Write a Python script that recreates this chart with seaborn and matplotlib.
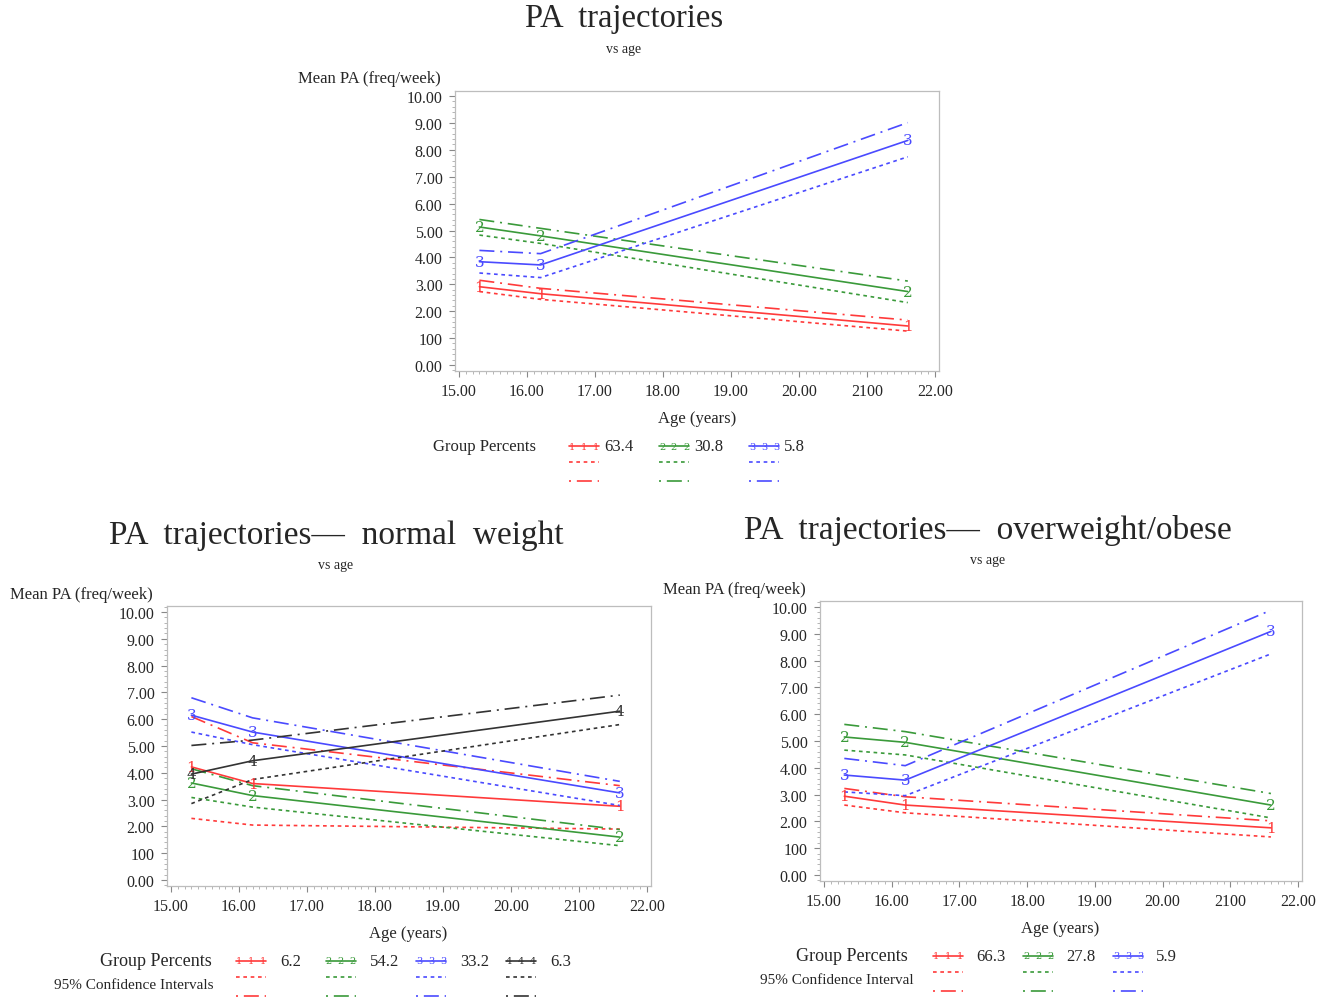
import numpy as np
import pandas as pd
import seaborn as sns
import matplotlib
matplotlib.use("Agg")
import matplotlib.pyplot as plt
from matplotlib.lines import Line2D
from matplotlib.ticker import AutoMinorLocator

W, H = 1333, 1004

# measurement ages (years)
age = [15.3, 16.2, 21.6]

# whole sample: mean, lower 95% CI, upper 95% CI for groups 1-3
all_mean = [[2.91, 2.65, 1.45], [5.13, 4.80, 2.73], [3.84, 3.72, 8.35]]
all_lower = [[2.73, 2.44, 1.26], [4.83, 4.52, 2.32], [3.42, 3.25, 7.74]]
all_upper = [[3.15, 2.85, 1.67], [5.41, 5.08, 3.12], [4.26, 4.14, 9.01]]
all_pct = ["63.4", "30.8", "5.8"]

# normal weight: groups 1-4
nw_mean = [[4.22, 3.60, 2.75], [3.62, 3.15, 1.60], [6.15, 5.52, 3.25], [3.95, 4.45, 6.30]]
nw_lower = [[2.30, 2.05, 1.90], [3.08, 2.72, 1.28], [5.52, 5.05, 2.78], [2.85, 3.75, 5.80]]
nw_upper = [[6.10, 5.12, 3.52], [4.15, 3.52, 1.88], [6.80, 6.05, 3.68], [5.02, 5.22, 6.90]]
nw_pct = ["6.2", "54.2", "33.2", "6.3"]

# overweight/obese: groups 1-3
ow_mean = [[2.94, 2.61, 1.76], [5.15, 4.95, 2.61], [3.73, 3.54, 9.09]]
ow_lower = [[2.61, 2.32, 1.42], [4.66, 4.48, 2.13], [3.10, 2.96, 8.25]]
ow_upper = [[3.23, 2.92, 2.02], [5.62, 5.35, 3.04], [4.35, 4.08, 9.88]]
ow_pct = ["66.3", "27.8", "5.9"]

x_ticks = [15, 16, 17, 18, 19, 20, 21, 22]
x_labels = ["15.00", "16.00", "17.00", "18.00", "19.00", "20.00", "2100", "22.00"]
y_ticks = list(range(11))
y_labels = ["0.00", "100", "2.00", "3.00", "4.00", "5.00", "6.00", "7.00", "8.00", "9.00", "10.00"]

colors = {"1": "#ff3a3a", "2": "#3a9a3a", "3": "#4a4aff", "4": "#333333"}
dash_map = {"mean": "", "lower": (2.2, 2.2), "upper": (9, 3.5, 1.2, 3.5)}
# legend keys: dash-dot starts on the dot so it reads ". -- ."
ls_map = {"mean": "-", "lower": (0, (2.2, 2.2)), "upper": (12.5, (9, 3.5, 1.2, 3.5))}

sns.set_theme(style="white")
plt.rcParams["font.family"] = ["Liberation Serif", "DejaVu Serif"]


def long_table(mean, lower, upper):
    rows = []
    for g, (m, lo, up) in enumerate(zip(mean, lower, upper), start=1):
        for kind, vals in (("mean", m), ("lower", lo), ("upper", up)):
            for a, v in zip(age, vals):
                rows.append((a, v, str(g), kind))
    return pd.DataFrame(rows, columns=["age", "pa", "group", "kind"])


def fx(x):
    return x / W


def fy(y):
    return 1 - y / H


def draw_panel(box, px15, px22, py0, py10, mean, lower, upper):
    left, top, right, bottom = box
    ax = fig.add_axes([fx(left), fy(bottom), (right - left) / W, (bottom - top) / H])
    sx = (px22 - px15) / 7
    sy = (py0 - py10) / 10
    ax.set_xlim(15 - (px15 - left) / sx, 22 + (right - px22) / sx)
    ax.set_ylim(0 - (bottom - py0) / sy, 10 + (py10 - top) / sy)
    df = long_table(mean, lower, upper)
    pal = {g: colors[g] for g in df["group"].unique()}
    sns.lineplot(data=df, x="age", y="pa", hue="group", style="kind",
                 palette=pal, dashes=dash_map, estimator=None, sort=False,
                 legend=False, lw=1.2, ax=ax)
    for g, m in enumerate(mean, start=1):
        for a, v in zip(age, m):
            ax.text(a, v, str(g), color=colors[str(g)], ha="center", va="center",
                    fontsize=11, family=["DejaVu Serif"])
    ax.set_xticks(x_ticks)
    ax.set_xticklabels(x_labels)
    ax.set_yticks(y_ticks)
    ax.set_yticklabels(y_labels)
    ax.xaxis.set_minor_locator(AutoMinorLocator(10))
    ax.yaxis.set_minor_locator(AutoMinorLocator(5))
    ax.tick_params(which="major", direction="out", length=4, width=0.8,
                   color="#888888", labelsize=11.5, pad=5, left=True, bottom=True)
    ax.tick_params(which="minor", direction="out", length=2, width=0.6,
                   color="#aaaaaa", left=True, bottom=True)
    for s in ax.spines.values():
        s.set_color("#bdbdbd")
        s.set_linewidth(0.9)
    ax.set_xlabel("")
    ax.set_ylabel("")
    return ax


def legend_block(xs, pcts, rows_y, text_dx, fs):
    for i, (x0, p) in enumerate(zip(xs, pcts)):
        g = str(i + 1)
        c = colors[g]
        for kind, y in zip(["mean", "lower", "upper"], rows_y):
            fig.add_artist(Line2D([fx(x0), fx(x0 + 30)], [fy(y), fy(y)],
                                  transform=fig.transFigure, color=c,
                                  ls=ls_map[kind], lw=1.2))
        for xm in (x0 + 3, x0 + 15, x0 + 27):
            fig.text(fx(xm), fy(rows_y[0]), g, color=c, fontsize=7,
                     ha="center", va="center", family=["DejaVu Serif"])
        fig.text(fx(x0 + text_dx), fy(rows_y[0]), p, fontsize=fs, ha="left", va="center")


fig = plt.figure(figsize=(W / 100, H / 100), dpi=100)

# top: whole sample
draw_panel((455, 92, 939, 372), 459, 935, 366, 97, all_mean, all_lower, all_upper)
fig.text(fx(624), fy(19), "PA  trajectories", fontsize=23.5, ha="center", va="center")
fig.text(fx(624), fy(50), "vs age", fontsize=10, ha="center", va="center")
fig.text(fx(298), fy(79), "Mean PA (freq/week)", fontsize=12, ha="left", va="center")
fig.text(fx(697), fy(419), "Age (years)", fontsize=12, ha="center", va="center")
fig.text(fx(433), fy(447), "Group Percents", fontsize=12, ha="left", va="center")
legend_block([569, 659, 749], all_pct, [447, 463, 482], 35, 12)

# bottom left: normal weight
draw_panel((167, 607, 651, 887), 171, 647, 881, 613, nw_mean, nw_lower, nw_upper)
fig.text(fx(336), fy(536), "PA  trajectories—  normal  weight", fontsize=24, ha="center", va="center")
fig.text(fx(336), fy(566), "vs age", fontsize=10, ha="center", va="center")
fig.text(fx(10), fy(595), "Mean PA (freq/week)", fontsize=12, ha="left", va="center")
fig.text(fx(408), fy(934), "Age (years)", fontsize=12, ha="center", va="center")
fig.text(fx(212), fy(962), "Group Percents", fontsize=13, ha="right", va="center")
fig.text(fx(214), fy(986), "95% Confidence Intervals", fontsize=11, ha="right", va="center")
legend_block([236, 326, 416, 506], nw_pct, [962, 978, 997], 44, 12)

# bottom right: overweight/obese
draw_panel((820, 602, 1302, 882), 824, 1298, 876, 608, ow_mean, ow_lower, ow_upper)
fig.text(fx(988), fy(531), "PA  trajectories—  overweight/obese", fontsize=24, ha="center", va="center")
fig.text(fx(988), fy(561), "vs age", fontsize=10, ha="center", va="center")
fig.text(fx(663), fy(590), "Mean PA (freq/week)", fontsize=12, ha="left", va="center")
fig.text(fx(1060), fy(929), "Age (years)", fontsize=12, ha="center", va="center")
fig.text(fx(908), fy(957), "Group Percents", fontsize=13, ha="right", va="center")
fig.text(fx(914), fy(981), "95% Confidence Interval", fontsize=11, ha="right", va="center")
legend_block([933, 1023, 1113], ow_pct, [957, 973, 992], 43, 12)

fig.savefig("out.png", dpi=100)
